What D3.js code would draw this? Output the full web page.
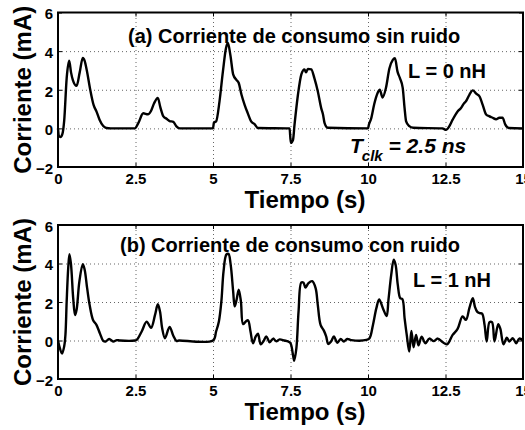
<!DOCTYPE html>
<html>
<head>
<meta charset="utf-8">
<script src="https://cdn.jsdelivr.net/npm/d3@7"></script>
<style>
  body { margin: 0; background: #fff; }
  svg { display: block; font-family: "Liberation Sans", Arial, Helvetica, sans-serif; font-weight: bold; }
</style>
</head>
<body>
<svg id="chart" width="525" height="430"></svg>
<script>
// Axis ticks
const timeTicks = [0, 2.5, 5, 7.5, 10, 12.5, 15];
const timeTickLabels = ["0", "2.5", "5", "7.5", "10", "12.5", "15"];
const currentTicks = [-2, 0, 2, 4, 6];
const currentTickLabels = ["\u22122", "0", "2", "4", "6"];

// Supply current [time, mA] without inductance
const sinRuido = [
  [0, 0], [0.03, -0.4], [0.08, -0.45], [0.14, -0.3], [0.2, 0.4], [0.28, 2.6], [0.36, 3.5],
  [0.42, 2.9], [0.48, 2.5], [0.6, 2.2], [0.7, 2.9], [0.8, 3.65], [0.86, 3.5], [0.93, 3.0],
  [1.04, 2.0], [1.15, 1.2], [1.24, 0.88], [1.34, 0.45], [1.46, 0.12], [1.56, 0.02], [1.7, 0],
  [2.48, 0], [2.59, 0.27], [2.75, 0.78], [2.9, 0.73], [3.0, 0.9], [3.1, 1.3], [3.22, 1.58],
  [3.3, 1.1], [3.4, 0.62], [3.5, 0.5], [3.6, 0.38], [3.72, 0.34], [3.82, 0.1], [3.93, 0],
  [5.0, 0], [5.03, 0.3], [5.1, 0.36], [5.21, 1.4], [5.32, 2.95], [5.42, 4.16], [5.48, 4.42],
  [5.56, 3.8], [5.65, 2.8], [5.76, 2.5], [5.83, 2.35], [5.92, 1.74], [6.02, 1.22], [6.12, 0.79],
  [6.23, 0.36], [6.34, 0.22], [6.45, 0.02], [7.47, 0], [7.51, -0.75], [7.58, -0.6], [7.63, 0.19],
  [7.74, 1.74], [7.85, 2.8], [7.95, 3.05], [8.0, 2.9], [8.06, 3.08], [8.17, 3.05], [8.27, 2.6],
  [8.38, 1.92], [8.49, 1.05], [8.55, 0.71], [8.6, 0.27], [8.7, 0.03], [10.0, 0], [10.03, 0.2],
  [10.1, 0.5], [10.2, 1.25], [10.31, 1.83], [10.38, 2.0], [10.47, 1.6], [10.58, 2.1], [10.69, 3.1],
  [10.8, 3.55], [10.87, 3.63], [10.95, 2.95], [11.03, 2.6], [11.12, 2.1], [11.18, 1.05], [11.23, 0.36],
  [11.32, 0.13], [11.46, 0.03], [12.4, 0], [12.52, -0.08], [12.62, 0.1], [12.73, 0.45], [12.89, 0.88],
  [13.0, 1.05], [13.1, 1.3], [13.16, 1.4], [13.27, 1.74], [13.38, 1.97], [13.49, 1.8], [13.6, 1.65],
  [13.7, 1.22], [13.81, 0.72], [13.92, 0.62], [14.02, 0.55], [14.13, 0.47], [14.24, 0.55], [14.34, 0.55],
  [14.43, 0.19], [14.54, 0.02], [15, 0]
];

// Supply current [time, mA] with 1 nH inductance
const conRuido = [
  [0, 0], [0.06, -0.4], [0.13, -0.68], [0.2, -0.3], [0.24, 0.3], [0.28, 2.03], [0.33, 3.77],
  [0.37, 4.48], [0.42, 3.94], [0.49, 2.2], [0.55, 1.32], [0.6, 1.6], [0.69, 3.07], [0.8, 3.97],
  [0.86, 3.68], [0.94, 2.72], [1.02, 1.85], [1.13, 1.07], [1.24, 0.81], [1.35, 0.38], [1.46, -0.02],
  [1.54, -0.05], [1.65, 0.08], [1.78, -0.05], [1.9, 0.02], [2.0, 0], [2.48, 0], [2.54, 0.03],
  [2.7, 0.47], [2.86, 0.98], [3.0, 0.66], [3.13, 1.33], [3.22, 1.88], [3.29, 1.51], [3.36, 0.64],
  [3.45, 0.12], [3.6, 0.7], [3.72, 0.25], [3.82, -0.02], [3.9, 0], [5.0, 0], [5.1, 0.47],
  [5.19, 0.99], [5.27, 2.03], [5.34, 3.59], [5.43, 4.46], [5.5, 4.5], [5.57, 3.94], [5.65, 2.55],
  [5.7, 1.77], [5.76, 2.11], [5.83, 2.64], [5.9, 2.03], [5.97, 0.85], [6.06, 0.99], [6.13, 1.05],
  [6.21, 0.47], [6.29, -0.14], [6.38, 0.21], [6.45, 0.35], [6.54, -0.2], [6.63, -0.03], [6.72, 0.21],
  [6.83, -0.09], [6.94, 0.1], [7.04, -0.04], [7.15, 0.06], [7.3, 0], [7.42, -0.05], [7.5, -0.14],
  [7.58, -0.75], [7.62, -1.05], [7.69, -0.4], [7.76, 1.51], [7.85, 3.02], [7.92, 3.0], [7.98, 2.75],
  [8.08, 2.98], [8.2, 3.08], [8.31, 2.72], [8.38, 1.85], [8.47, 0.81], [8.58, 0.5], [8.65, 0.21],
  [8.72, -0.18], [8.81, -0.05], [8.9, 0.21], [9.01, -0.12], [9.12, 0.08], [9.22, -0.05], [9.33, 0.08],
  [9.46, 0.02], [9.95, 0.03], [10.05, 0.12], [10.16, 0.81], [10.27, 1.68], [10.36, 2.13], [10.48, 1.68],
  [10.6, 1.27], [10.66, 2.11], [10.75, 3.42], [10.83, 4.2], [10.89, 3.94], [10.96, 2.9], [11.04, 2.2],
  [11.11, 2.15], [11.18, 1.16], [11.25, 0.29], [11.33, -0.58], [11.4, 0.5], [11.47, -0.35], [11.55, 0.29],
  [11.63, -0.25], [11.73, 0.2], [11.85, -0.14], [11.98, 0.1], [12.12, -0.03], [12.25, 0.1], [12.4, -0.08],
  [12.55, -0.2], [12.73, 0.29], [12.89, 0.6], [13.05, 1.25], [13.16, 1.07], [13.27, 1.68], [13.38, 2.2],
  [13.45, 1.75], [13.52, 1.5], [13.6, 1.42], [13.68, 1.4], [13.76, 0.81], [13.83, -0.05], [13.92, 0.95],
  [14.0, 0.95], [14.08, -0.05], [14.2, 0.85], [14.27, 0.6], [14.37, -0.2], [14.48, 0.15], [14.56, -0.05],
  [14.67, 0.12], [14.78, -0.14], [14.88, 0.1], [15, 0]
];

const titles = ["(a) Corriente de consumo sin ruido", "(b) Corriente de consumo con ruido"];
const inductances = ["L = 0 nH", "L = 1 nH"];
const yLabel = "Corriente (mA)";
const xLabel = "Tiempo (s)";

const svg = d3.select("#chart");
const left = 58, right = 523;

const panels = [
  { series: sinRuido, title: titles[0], L: inductances[0], top: 12.5, bottom: 167,
    curve: d3.curveMonotoneX, clock: true, titleX: 128, titleY: 30.5, lX: 408, lY: 65.5 },
  { series: conRuido, title: titles[1], L: inductances[1], top: 225, bottom: 379,
    curve: d3.curveCatmullRom.alpha(0.5), clock: false, titleX: 120, titleY: 27, lX: 413, lY: 62 }
];

const x = d3.scaleLinear().domain([0, 15]).range([left, right]);

panels.forEach(p => {
  const y = d3.scaleLinear().domain([-2, 6]).range([p.bottom, p.top]);
  const h = p.bottom - p.top;
  const g = svg.append("g");

  // dotted grid
  g.append("g")
    .attr("transform", `translate(0,${p.bottom})`)
    .call(d3.axisBottom(x).tickValues(timeTicks.slice(1, -1)).tickSize(-h).tickFormat(""))
    .call(s => s.select(".domain").remove())
    .selectAll("line").attr("stroke", "#666").attr("stroke-width", 1).attr("stroke-dasharray", "1,3");
  g.append("g")
    .attr("transform", `translate(${left},0)`)
    .call(d3.axisLeft(y).tickValues(currentTicks.slice(1, -1)).tickSize(-(right - left)).tickFormat(""))
    .call(s => s.select(".domain").remove())
    .selectAll("line").attr("stroke", "#666").attr("stroke-width", 1).attr("stroke-dasharray", "1,3");

  // inward tick marks on all four sides
  const tickLen = 4;
  [[d3.axisBottom(x).tickValues(timeTicks), `translate(0,${p.bottom})`],
   [d3.axisTop(x).tickValues(timeTicks), `translate(0,${p.top})`],
   [d3.axisLeft(y).tickValues(currentTicks), `translate(${left},0)`],
   [d3.axisRight(y).tickValues(currentTicks), `translate(${right},0)`]
  ].forEach(([ax, tr]) => {
    g.append("g").attr("transform", tr)
      .call(ax.tickSize(-tickLen).tickFormat(""))
      .call(s => s.select(".domain").remove())
      .selectAll("line").attr("stroke", "#000").attr("stroke-width", 1);
  });

  // current trace
  g.append("path")
    .datum(p.series)
    .attr("d", d3.line().x(d => x(d[0])).y(d => y(d[1])).curve(p.curve))
    .attr("fill", "none")
    .attr("stroke", "#000")
    .attr("stroke-width", 2.4)
    .attr("stroke-linejoin", "round");

  // axes box
  g.append("rect")
    .attr("x", left).attr("y", p.top)
    .attr("width", right - left).attr("height", h)
    .attr("fill", "none").attr("stroke", "#000").attr("stroke-width", 2);

  // tick labels
  g.append("g")
    .attr("transform", `translate(0,${p.bottom})`)
    .call(d3.axisBottom(x).tickValues(timeTicks).tickSize(0).tickPadding(6)
      .tickFormat((d, i) => timeTickLabels[i]))
    .call(s => s.select(".domain").remove())
    .selectAll("text").attr("font-size", 15).attr("font-weight", "bold")
    .attr("font-family", "Liberation Sans, Arial, sans-serif").attr("fill", "#000");
  g.append("g")
    .attr("transform", `translate(${left},0)`)
    .call(d3.axisLeft(y).tickValues(currentTicks).tickSize(0).tickPadding(5)
      .tickFormat((d, i) => currentTickLabels[i]))
    .call(s => s.select(".domain").remove())
    .selectAll("text").attr("font-size", 15).attr("font-weight", "bold")
    .attr("font-family", "Liberation Sans, Arial, sans-serif").attr("fill", "#000")
    .attr("dy", "0.42em");

  // axis titles
  g.append("text")
    .attr("transform", `translate(31,${(p.top + p.bottom) / 2}) rotate(-90)`)
    .attr("text-anchor", "middle")
    .attr("font-size", 24)
    .text(yLabel);
  g.append("text")
    .attr("x", 305).attr("y", p.bottom + 41)
    .attr("text-anchor", "middle")
    .attr("font-size", 24)
    .text(xLabel);

  // panel annotations
  g.append("text")
    .attr("x", p.titleX).attr("y", p.top + p.titleY)
    .attr("font-size", 20)
    .text(p.title);
  g.append("text")
    .attr("x", p.lX).attr("y", p.top + p.lY)
    .attr("font-size", 20)
    .text(p.L);

  if (p.clock) {
    const t = g.append("text")
      .attr("x", 350).attr("y", p.top + 140.5)
      .attr("font-size", 21).attr("font-style", "italic");
    t.append("tspan").text("T");
    t.append("tspan").attr("font-size", 15).attr("dy", 8).attr("dx", -1).text("clk");
    t.append("tspan").attr("dy", -8).text(" = 2.5 ns");
  }
});
</script>
</body>
</html>
